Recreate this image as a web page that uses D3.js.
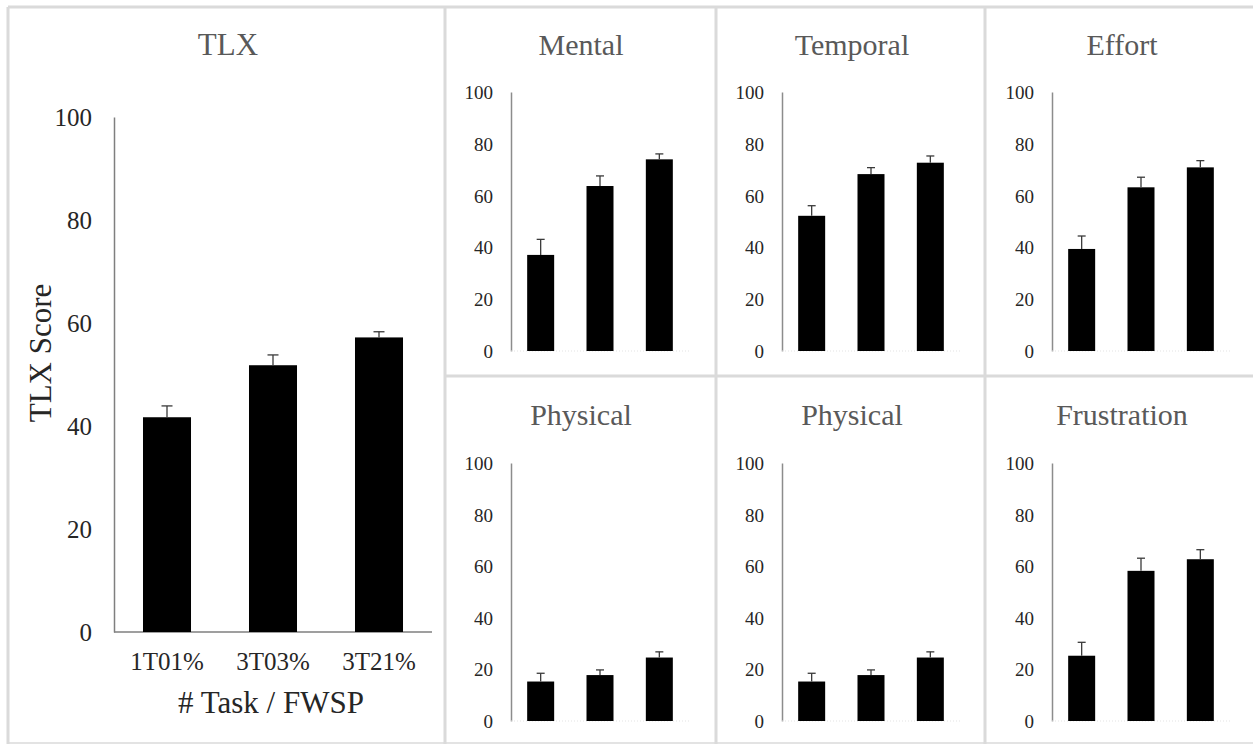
<!DOCTYPE html>
<html>
<head>
<meta charset="utf-8">
<script src="https://cdn.jsdelivr.net/npm/d3@7"></script>
<style>
  html, body { margin: 0; padding: 0; background: #fff; }
  svg { display: block; }
  svg text { font-family: "Liberation Serif", "Times New Roman", Times, serif !important; }
</style>
</head>
<body>
<svg id="chart" width="1253" height="744"></svg>
<script>
// Conditions (number of tasks / FWSP)
const categories = ["1T01%", "3T03%", "3T21%"];
const yTicks = [0, 20, 40, 60, 80, 100];

// Overall TLX score: mean and upper standard error
const tlxMean = [41.7, 51.8, 57.2];
const tlxErr  = [2.2, 2.0, 1.1];

// Sub-scales
const subTitles = ["Mental", "Temporal", "Effort", "Physical", "Physical", "Frustration"];
const mentalMean      = [37.1, 63.7, 74.0];
const mentalErr       = [6.0, 3.9, 2.1];
const temporalMean    = [52.2, 68.3, 72.7];
const temporalErr     = [3.9, 2.5, 2.6];
const effortMean      = [39.4, 63.2, 70.9];
const effortErr       = [5.0, 3.9, 2.6];
const physicalMean    = [15.3, 17.8, 24.6];
const physicalErr     = [3.2, 2.0, 2.2];
const frustrationMean = [25.3, 58.2, 62.7];
const frustrationErr  = [5.2, 4.9, 3.7];

const subMeans = [mentalMean, temporalMean, effortMean, physicalMean, physicalMean, frustrationMean];
const subErrs  = [mentalErr, temporalErr, effortErr, physicalErr, physicalErr, frustrationErr];

const SERIF = '"Liberation Serif", "Times New Roman", Times, serif';
const svg = d3.select("#chart");
const titleColor = "#595959";
const textColor = "#262626";

// ---- panel frames ----
const frame = svg.append("g").attr("stroke", "#dadada").attr("stroke-width", 3).attr("fill", "none");
const colX = [8, 445, 716, 985];
const W = 1253, H = 744;
frame.append("line").attr("x1", 8).attr("x2", W).attr("y1", 7).attr("y2", 7);
frame.append("line").attr("x1", 8).attr("x2", W).attr("y1", 743).attr("y2", 743).attr("stroke-width", 1.5);
colX.forEach(x => frame.append("line").attr("x1", x).attr("x2", x).attr("y1", 7).attr("y2", H));
frame.append("line").attr("x1", 445).attr("x2", W).attr("y1", 376).attr("y2", 376);

// ---- draws one bar panel ----
function drawPanel(g, opt) {
  const y = d3.scaleLinear().domain([0, 100]).range([opt.y0, opt.y100]);
  const x = d3.scaleBand().domain(categories)
    .range([opt.axisX, opt.axisX + opt.span])
    .paddingInner(opt.pad).paddingOuter(opt.pad / 2);

  // y axis with labels only (no tick marks)
  const yAxis = d3.axisLeft(y).tickValues(yTicks).tickSize(0).tickPadding(opt.tickPad);
  const ya = g.append("g").attr("transform", `translate(${opt.axisX},0)`).call(yAxis)
    .attr("font-family", null).attr("font-size", null);
  ya.select(".domain").attr("stroke", opt.axisColor).attr("stroke-width", 1.5);
  ya.selectAll("text")
    .style("font-family", SERIF)
    .style("font-size", opt.tickSize + "px")
    .attr("fill", textColor)
    .attr("dy", "0.34em");

  // baseline
  g.append("line")
    .attr("x1", opt.axisX).attr("x2", opt.axisX + opt.span)
    .attr("y1", y(0)).attr("y2", y(0))
    .attr("stroke", opt.baseColor).attr("stroke-width", opt.baseWidth)
    .attr("stroke-dasharray", opt.baseDash || null);

  // bars
  g.selectAll("rect.bar").data(opt.means).join("rect")
    .attr("class", "bar")
    .attr("x", (d, i) => x(categories[i]))
    .attr("width", x.bandwidth())
    .attr("y", d => y(d))
    .attr("height", d => y(0) - y(d))
    .attr("fill", "#000");

  // upper error bars
  const eb = g.selectAll("g.err").data(opt.means.map((m, i) => ({ m, e: opt.errs[i], c: categories[i] })))
    .join("g").attr("class", "err")
    .attr("stroke", "#3a3a3a").attr("stroke-width", 1.3);
  eb.append("line")
    .attr("x1", d => x(d.c) + x.bandwidth() / 2).attr("x2", d => x(d.c) + x.bandwidth() / 2)
    .attr("y1", d => y(d.m)).attr("y2", d => y(d.m + d.e));
  eb.append("line")
    .attr("x1", d => x(d.c) + x.bandwidth() / 2 - opt.cap / 2)
    .attr("x2", d => x(d.c) + x.bandwidth() / 2 + opt.cap / 2)
    .attr("y1", d => y(d.m + d.e)).attr("y2", d => y(d.m + d.e));

  // title
  g.append("text")
    .attr("x", opt.titleX).attr("y", opt.titleY)
    .attr("text-anchor", "middle")
    .style("font-family", SERIF)
    .style("font-size", opt.titleSize + "px")
    .attr("fill", titleColor)
    .text(opt.title);

  return x;
}

// ---- main TLX panel ----
const main = svg.append("g");
const xMain = drawPanel(main, {
  axisX: 114, span: 318, y0: 632, y100: 117, pad: 0.547,
  means: tlxMean, errs: tlxErr, cap: 11,
  tickSize: 25, tickPad: 22, axisColor: "#7f7f7f",
  baseColor: "#7f7f7f", baseWidth: 1.5,
  title: "TLX", titleX: 228, titleY: 55, titleSize: 31
});

// category labels
main.selectAll("text.cat").data(categories).join("text")
  .attr("class", "cat")
  .attr("x", d => xMain(d) + xMain.bandwidth() / 2)
  .attr("y", 670)
  .attr("text-anchor", "middle")
  .style("font-family", SERIF)
  .style("font-size", "25px")
  .attr("fill", textColor)
  .text(d => d);

// axis titles
main.append("text")
  .attr("transform", "translate(51,353) rotate(-90)")
  .attr("text-anchor", "middle")
  .style("font-family", SERIF)
  .style("font-size", "31px")
  .attr("fill", textColor)
  .text("TLX Score");

main.append("text")
  .attr("x", 271).attr("y", 713)
  .attr("text-anchor", "middle")
  .style("font-family", SERIF)
  .style("font-size", "31px")
  .attr("fill", textColor)
  .text("# Task / FWSP");

// ---- sub-scale panels (2 rows x 3 columns) ----
const subAxisX = [511, 782, 1052];
const subRows = [{ y0: 351, y100: 92, titleY: 55 }, { y0: 721, y100: 463, titleY: 425 }];

subTitles.forEach((t, k) => {
  const col = k % 3, row = Math.floor(k / 3);
  const g = svg.append("g");
  drawPanel(g, {
    axisX: subAxisX[col], span: 178,
    y0: subRows[row].y0, y100: subRows[row].y100, pad: 0.545,
    means: subMeans[k], errs: subErrs[k], cap: 8,
    tickSize: 19, tickPad: 18, axisColor: "#8c8c8c",
    baseColor: "#e3e3e3", baseWidth: 1, baseDash: "1,2",
    title: t, titleX: subAxisX[col] + 70, titleY: subRows[row].titleY, titleSize: 30
  });
});
</script>
</body>
</html>
